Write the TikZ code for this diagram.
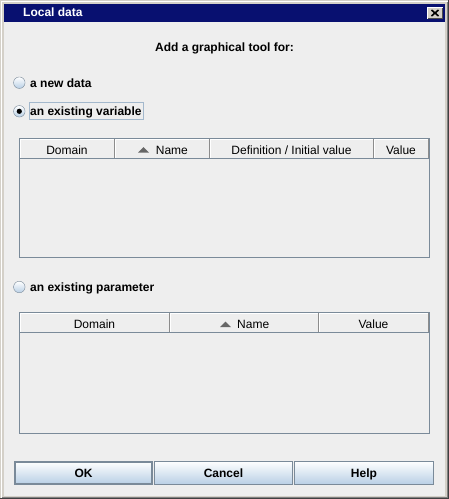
\documentclass[tikz,border=0pt]{standalone}
\usepackage{fontspec}
\setmainfont{Liberation Sans}
\usepackage{xcolor}
\usepackage{tikz}

\definecolor{winframe}{RGB}{212,208,200}
\definecolor{panel}{RGB}{238,238,238}
\definecolor{titlebar}{RGB}{8,16,112}
\definecolor{ocean}{RGB}{122,138,153}
\definecolor{btnlow}{RGB}{184,207,229}
\definecolor{focusline}{RGB}{163,184,204}

\tikzset{
  lbl/.style={anchor=base west, inner sep=0pt, font=\fontsize{12}{14}\selectfont\bfseries},
  head/.style={anchor=base, inner sep=0pt, font=\fontsize{12}{14}\selectfont},
  radio/.style={circle, draw=ocean, inner sep=0pt, minimum size=11.5pt, top color=white, bottom color=btnlow},
  button/.style={draw=ocean, inner sep=0pt, minimum width=138pt, minimum height=23.5pt,
    top color=white, bottom color=btnlow, text height=8.8pt, text depth=0pt,
    font=\fontsize{12}{14}\selectfont\bfseries},
}

\begin{document}
\begin{tikzpicture}[x=1pt,y=-1pt]
\useasboundingbox (0,0) rectangle (449,499);
% window frame and panel
\fill[winframe] (0,0) rectangle (449,499);
\draw[white] (1.5,497.5)--(1.5,1.5)--(447.5,1.5);
\draw[black!50] (447.5,1.5)--(447.5,497.5)--(1.5,497.5);
\draw[black!75] (448.5,0)--(448.5,498.5)--(0,498.5);
\fill[panel] (4,22) rectangle (445,496);

% title bar
\fill[titlebar] (4,4) rectangle (445,22);
\node[lbl, text=white] (title) at (23,16.5) {Local data};
\fill[winframe] (427,7) rectangle (443,19);
\draw[white] (427.5,18.5)--(427.5,7.5)--(442.5,7.5);
\draw[black!70] (442.5,7.5)--(442.5,18.5)--(427.5,18.5);
\draw[line width=1.6pt] (431.5,10)--(438.5,16) (438.5,10)--(431.5,16);

% heading and choices
\node[anchor=base, inner sep=0pt, font=\fontsize{12}{14}\selectfont\bfseries] (heading) at (224.5,51) {Add a graphical tool for:};

\node[radio] (rdata) at (19.3,82.7) {};
\node[radio] (rvar) at (19.3,111.3) {};
\node[radio] (rpar) at (19.3,287) {};
\fill[black] (rvar) circle (2.6);

\node[lbl] (optdata) at (30,87) {a new data};
\node[lbl] (optvar) at (30,115.5) {an existing variable};
\node[lbl] (optpar) at (30,291) {an existing parameter};
\draw[focusline] (29.5,102.5) rectangle ([xshift=1.5pt]optvar.east |- 0,119.5);

% variable table
\draw[ocean] (19.5,138.5) rectangle (429.5,257.5);
\foreach \xa/\xb in {20/114,115/209,210/373,374/428} {
  \draw[white] (\xa+0.5,158)--(\xa+0.5,139.5)--(\xb,139.5);
  \draw[black!45] (\xb+0.5,139)--(\xb+0.5,158);
}
\draw[ocean] (20,158.5)--(429,158.5);
\node[head] (vdomain) at (67,154) {Domain};
\node[head, anchor=base west] (vname) at (155.7,154) {Name};
\fill[black!60] (138,152.5)--(149,152.5)--(143.5,147)--cycle;
\node[head] (vdef) at (291.5,154) {Definition / Initial value};
\node[head] (vvalue) at (401,154) {Value};

% parameter table
\draw[ocean] (19.5,312.5) rectangle (429.5,433.5);
\foreach \xa/\xb in {20/169,170/318,319/428} {
  \draw[white] (\xa+0.5,332)--(\xa+0.5,313.5)--(\xb,313.5);
  \draw[black!45] (\xb+0.5,313)--(\xb+0.5,332);
}
\draw[ocean] (20,332.5)--(429,332.5);
\node[head] (pdomain) at (94.5,328.5) {Domain};
\node[head, anchor=base west] (pname) at (237,328.5) {Name};
\fill[black!60] (220,327)--(231,327)--(225.5,321.5)--cycle;
\node[head] (pvalue) at (373.5,328.5) {Value};

% buttons
\node[button, line width=2pt, minimum width=137pt, minimum height=22.5pt] (ok) at (83.5,472.8) {OK};
\node[button] (cancel) at (223.5,472.8) {Cancel};
\node[button, minimum width=139pt] (help) at (364,472.8) {Help};
\end{tikzpicture}
\end{document}
